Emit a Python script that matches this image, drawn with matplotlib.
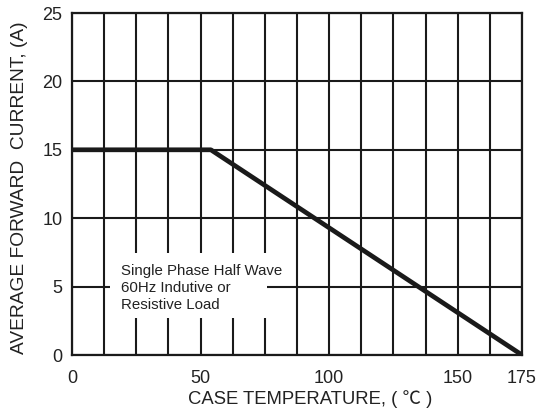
import numpy as np
import matplotlib
matplotlib.use("Agg")
import matplotlib.pyplot as plt
from matplotlib.patches import Rectangle

# derating curve
temp = [0, 54, 175]
current = [15, 15, 0]

x_grid = [0, 12.5, 25, 37.5, 50, 62.5, 75, 87.5, 100, 112.5, 125, 137.5, 150, 162.5, 175]
x_labeled = [0, 50, 100, 150, 175]
y_ticks = [0, 5, 10, 15, 20, 25]

note = "Single Phase Half Wave\n60Hz Indutive or\nResistive Load"

plt.rcParams['font.family'] = ['Liberation Sans', 'Noto Sans CJK SC', 'DejaVu Sans']
ink = "#1a1a1a"

fig = plt.figure(figsize=(5.54, 4.13), dpi=100)
ax = fig.add_axes((72/554, 58/413, 450/554, 342/413))
ax.set_xlim(0, 175)
ax.set_ylim(0, 25)

ax.set_xticks(x_grid)
ax.set_xticklabels([("%g" % v) if v in x_labeled else "" for v in x_grid])
ax.set_yticks(y_ticks)
ax.tick_params(length=0, labelsize=13, colors="#222222")
ax.tick_params(axis='x', pad=11)
ax.tick_params(axis='y', pad=7)

ax.set_axisbelow(True)
ax.grid(True, color=ink, linewidth=1.5)
for s in ax.spines.values():
    s.set_linewidth(1.6)
    s.set_color(ink)

# white patch behind the note
ax.add_patch(Rectangle((14.8, 2.7), 61.2, 4.76, facecolor="white", edgecolor="none", zorder=2))
ax.text(18.9, 4.9, note, fontsize=10.8, va="center", ha="left", linespacing=1.25,
        color="#222222", zorder=4)

ax.plot(temp, current, color=ink, linewidth=3.4, solid_capstyle="butt", zorder=3)

ax.set_xlabel("CASE TEMPERATURE, ( ℃ )", fontsize=13.3, color="#222222")
ax.set_ylabel("AVERAGE FORWARD  CURRENT, (A)", fontsize=13.8, color="#222222")
ax.xaxis.set_label_coords(0.529, -0.102)
ax.yaxis.set_label_coords(-0.098, 0.49)

fig.savefig("out.png", dpi=100)
